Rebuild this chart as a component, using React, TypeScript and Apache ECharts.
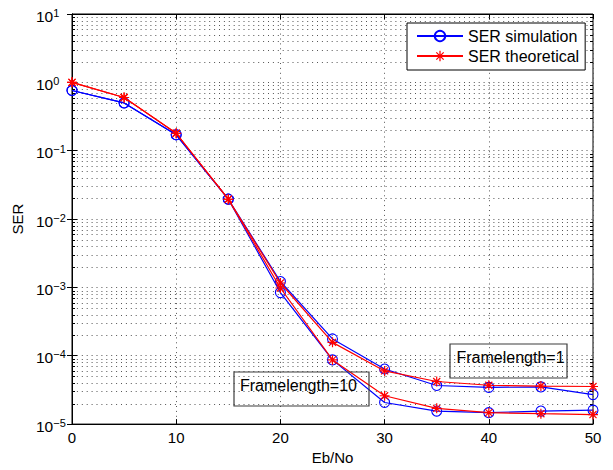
import React, { useEffect, useRef } from "react";
import * as echarts from "echarts";

// Eb/No sample points (dB)
const ebNo = [0, 5, 10, 15, 20, 25, 30, 35, 40, 45, 50];

// Framelength = 1
const serSim1 = [0.76, 0.5, 0.171, 0.0195, 1.22e-3, 1.76e-4, 6.4e-5, 3.67e-5, 3.44e-5, 3.5e-5, 2.7e-5];
const serTheo1 = [1.0, 0.6, 0.18, 0.0195, 1.16e-3, 1.57e-4, 6.0e-5, 4.2e-5, 3.7e-5, 3.6e-5, 3.55e-5];

// Framelength = 10
const serSim10 = [0.76, 0.5, 0.171, 0.0195, 8.4e-4, 8.7e-5, 2.07e-5, 1.55e-5, 1.47e-5, 1.55e-5, 1.6e-5];
const serTheo10 = [1.0, 0.6, 0.18, 0.0195, 0.98e-3, 8.7e-5, 2.6e-5, 1.7e-5, 1.47e-5, 1.42e-5, 1.38e-5];

const legendNames = ["SER simulation", "SER theoretical"];
const noteLabels = ["Framelength=1", "Framelength=10"];

const FONT = "'Liberation Sans', Arial, Helvetica, sans-serif";
const BLUE = "#0000ff";
const RED = "#ff0000";
const GRID_DOT = "#555";
const DOTS = [1, 3.9];

// Asterisk marker: vertical, horizontal and two diagonal bars
const STAR =
  "path://M8.8 0H11.2V20H8.8Z M0 8.8H20V11.2H0Z " +
  "M3.78 2.08L17.92 16.22L16.22 17.92L2.08 3.78Z " +
  "M16.22 2.08L17.92 3.78L3.78 17.92L2.08 16.22Z";

// Minor log-decade positions (2..9 x 10^k) for the dotted grid
const minorTicks: number[] = [];
for (let e = -5; e <= 0; e++) {
  for (let m = 2; m <= 9; m++) minorTicks.push(m * Math.pow(10, e));
}

const pairs = (ys: number[]) => ebNo.map((x, i) => [x, ys[i]]);

const simSeries = (data: number[]) => ({
  name: legendNames[0],
  type: "line",
  data: pairs(data),
  color: BLUE,
  symbol: "circle",
  symbolSize: 10,
  showAllSymbol: true,
  lineStyle: { color: BLUE, width: 1.2 },
  itemStyle: { color: "rgba(0,0,0,0)", borderColor: BLUE, borderWidth: 1.1 },
  z: 3,
});

const theoSeries = (data: number[]) => ({
  name: legendNames[1],
  type: "line",
  data: pairs(data),
  color: RED,
  symbol: STAR,
  symbolSize: 10,
  showAllSymbol: true,
  lineStyle: { color: RED, width: 1.2 },
  itemStyle: { color: RED, borderWidth: 0 },
  z: 4,
});

export default function App() {
  const ref = useRef<HTMLDivElement>(null);

  useEffect(() => {
    if (!ref.current) return;
    const chart = echarts.init(ref.current, undefined, { renderer: "svg" });

    const expLabel = (v: number) => {
      const e = Math.round(Math.log10(v));
      const s = e < 0 ? "\u2212" + String(-e) : String(e);
      return `{b|10}{s|${s}}`;
    };

    const option: any = {
      animation: false,
      backgroundColor: "#fff",
      textStyle: { fontFamily: FONT },
      grid: {
        left: 72,
        top: 14,
        right: 20,
        bottom: 45,
        show: true,
        borderColor: "#000",
        borderWidth: 1,
        backgroundColor: "#fff",
      },
      legend: {
        data: legendNames,
        orient: "vertical",
        left: 407,
        top: 23,
        itemWidth: 46,
        itemHeight: 13,
        itemGap: 4,
        padding: [5, 6, 6, 9],
        backgroundColor: "#fff",
        borderColor: "#000",
        borderWidth: 1,
        selectedMode: false,
        textStyle: { fontFamily: FONT, fontSize: 16, color: "#000" },
      },
      xAxis: [
        {
          type: "value",
          min: 0,
          max: 50,
          interval: 10,
          name: "Eb/No",
          nameLocation: "middle",
          nameGap: 24,
          nameTextStyle: { fontFamily: FONT, fontSize: 15, color: "#000" },
          axisLine: { show: true, lineStyle: { color: "#000", width: 1 } },
          axisTick: { show: true, inside: true, length: 5, lineStyle: { color: "#000" } },
          axisLabel: { fontFamily: FONT, fontSize: 15, color: "#000", margin: 6 },
          splitLine: { show: true, lineStyle: { color: GRID_DOT, width: 1, type: DOTS } },
        },
        {
          type: "value",
          position: "top",
          min: 0,
          max: 50,
          interval: 10,
          axisLine: { show: true, lineStyle: { color: "#000", width: 1 } },
          axisTick: { show: true, inside: true, length: 5, lineStyle: { color: "#000" } },
          axisLabel: { show: false },
          splitLine: { show: false },
        },
      ],
      yAxis: [
        {
          type: "log",
          logBase: 10,
          min: 1e-5,
          max: 10,
          interval: 1,
          splitNumber: 6,
          name: "SER",
          nameLocation: "middle",
          nameGap: 43,
          nameTextStyle: { fontFamily: FONT, fontSize: 15, color: "#000" },
          axisLine: { show: true, lineStyle: { color: "#000", width: 1 } },
          axisTick: { show: true, inside: true, length: 5, lineStyle: { color: "#000" } },
          axisLabel: {
            formatter: expLabel,
            align: "left",
            margin: 36,
            padding: [4, 0, 0, 0],
            rich: {
              b: { fontFamily: FONT, fontSize: 15.5, color: "#000", lineHeight: 18 },
              s: { fontFamily: FONT, fontSize: 11, color: "#000", lineHeight: 9, verticalAlign: "top" },
            },
          },
          splitLine: { show: true, lineStyle: { color: GRID_DOT, width: 1, type: DOTS } },
        },
        {
          type: "log",
          logBase: 10,
          position: "right",
          min: 1e-5,
          max: 10,
          interval: 1,
          splitNumber: 6,
          axisLine: { show: true, lineStyle: { color: "#000", width: 1 } },
          axisTick: { show: true, inside: true, length: 5, lineStyle: { color: "#000" } },
          axisLabel: { show: false },
          splitLine: { show: false },
        },
      ],
      series: [
        {
          type: "custom",
          silent: true,
          z: 1,
          data: minorTicks.map((v) => [0, v]),
          encode: { x: 0, y: 1 },
          renderItem: (params: any, api: any) => {
            const cs = params.coordSys;
            const y = Math.round(api.coord([0, api.value(1)])[1]) + 0.5;
            const x0 = cs.x;
            const x1 = cs.x + cs.width;
            return {
              type: "group",
              children: [
                {
                  type: "line",
                  shape: { x1: x0, y1: y, x2: x1, y2: y },
                  style: { stroke: GRID_DOT, lineWidth: 1, lineDash: DOTS },
                },
                {
                  type: "line",
                  shape: { x1: x0, y1: y, x2: x0 + 3, y2: y },
                  style: { stroke: "#000", lineWidth: 1 },
                },
                {
                  type: "line",
                  shape: { x1: x1 - 3, y1: y, x2: x1, y2: y },
                  style: { stroke: "#000", lineWidth: 1 },
                },
              ],
            };
          },
        },
        simSeries(serSim1),
        theoSeries(serTheo1),
        simSeries(serSim10),
        theoSeries(serTheo10),
      ],
      graphic: [
        {
          type: "rect",
          left: 447.5,
          top: 341.5,
          shape: { width: 117, height: 34 },
          style: { fill: "none", stroke: "#3c3c3c", lineWidth: 1.2 },
          z: 10,
        },
        {
          type: "text",
          x: 456.5,
          y: 357,
          style: {
            text: noteLabels[0],
            fontFamily: FONT,
            fontSize: 16,
            fill: "#000",
            verticalAlign: "middle",
          },
          z: 10,
        },
        {
          type: "rect",
          left: 231.5,
          top: 369.5,
          shape: { width: 135, height: 34 },
          style: { fill: "none", stroke: "#3c3c3c", lineWidth: 1.2 },
          z: 10,
        },
        {
          type: "text",
          x: 240,
          y: 385,
          style: {
            text: noteLabels[1],
            fontFamily: FONT,
            fontSize: 16,
            fill: "#000",
            verticalAlign: "middle",
          },
          z: 10,
        },
      ],
    };

    chart.setOption(option);
    return () => chart.dispose();
  }, []);

  return (
    <div
      ref={ref}
      style={{ position: "fixed", left: 0, top: 0, width: 613, height: 470, background: "#fff" }}
    />
  );
}
